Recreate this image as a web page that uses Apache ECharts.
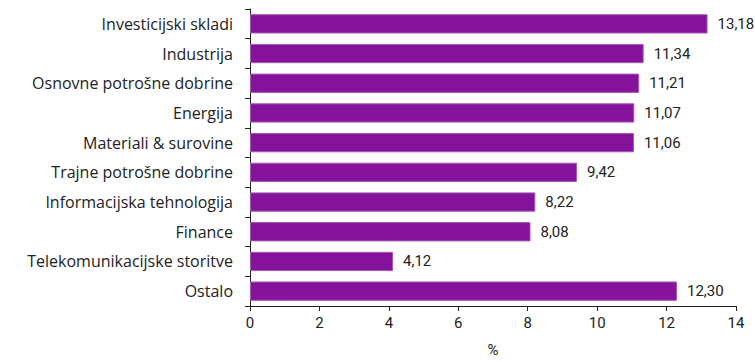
<!DOCTYPE html>
<html>
<head>
<meta charset="utf-8">
<script src="https://cdn.jsdelivr.net/npm/echarts@6/dist/echarts.min.js"></script>
<style>
  html, body { margin: 0; padding: 0; background: #fff; }
  #chart { width: 755px; height: 362px; }
</style>
</head>
<body>
<div id="chart"></div>
<script>
// kategorije od zgoraj navzdol
var categories = [
  "Investicijski skladi",
  "Industrija",
  "Osnovne potrošne dobrine",
  "Energija",
  "Materiali & surovine",
  "Trajne potrošne dobrine",
  "Informacijska tehnologija",
  "Finance",
  "Telekomunikacijske storitve",
  "Ostalo"
];
var values = [13.18, 11.34, 11.21, 11.07, 11.06, 9.42, 8.22, 8.08, 4.12, 12.30];
var xTicks = [0, 2, 4, 6, 8, 10, 12, 14];

var fontFamily = "'Open Sans', Roboto, sans-serif";
var numFont = "Roboto, 'Open Sans', sans-serif"; // ozje stevilke
var chart = echarts.init(document.getElementById("chart"), null, { renderer: "svg" });

chart.setOption({
  animation: false,
  textStyle: { fontFamily: fontFamily },
  grid: {
    left: 250,
    right: 19,
    top: 9,
    bottom: 54
  },
  xAxis: {
    type: "value",
    min: xTicks[0],
    max: xTicks[xTicks.length - 1],
    interval: 2,
    name: "%",
    nameLocation: "middle",
    nameGap: 36,
    nameTextStyle: { color: "#222", fontSize: 15, fontFamily: numFont },
    axisLine: { show: true, lineStyle: { color: "#222", width: 1 } },
    axisTick: { show: true, length: 5, lineStyle: { color: "#222" } },
    axisLabel: { color: "#222", fontSize: 15, margin: 9, fontFamily: numFont },
    splitLine: { show: false }
  },
  yAxis: {
    type: "category",
    inverse: true,
    data: categories,
    axisLine: { show: true, lineStyle: { color: "#222", width: 1 } },
    axisTick: { show: true, length: 5, alignWithLabel: false, lineStyle: { color: "#222" } },
    axisLabel: { color: "#222", fontSize: 16, margin: 17, fontFamily: fontFamily }
  },
  series: [
    {
      type: "bar",
      data: values,
      barCategoryGap: "35%",
      itemStyle: {
        color: "#84129b",
        borderColor: "#a45bb5",
        borderWidth: 1
      },
      label: {
        show: true,
        position: "right",
        distance: 10,
        color: "#222",
        fontSize: 15,
        fontFamily: numFont,
        formatter: function (p) {
          return p.value.toFixed(2).replace(".", ",");
        }
      }
    }
  ]
});
</script>
</body>
</html>
